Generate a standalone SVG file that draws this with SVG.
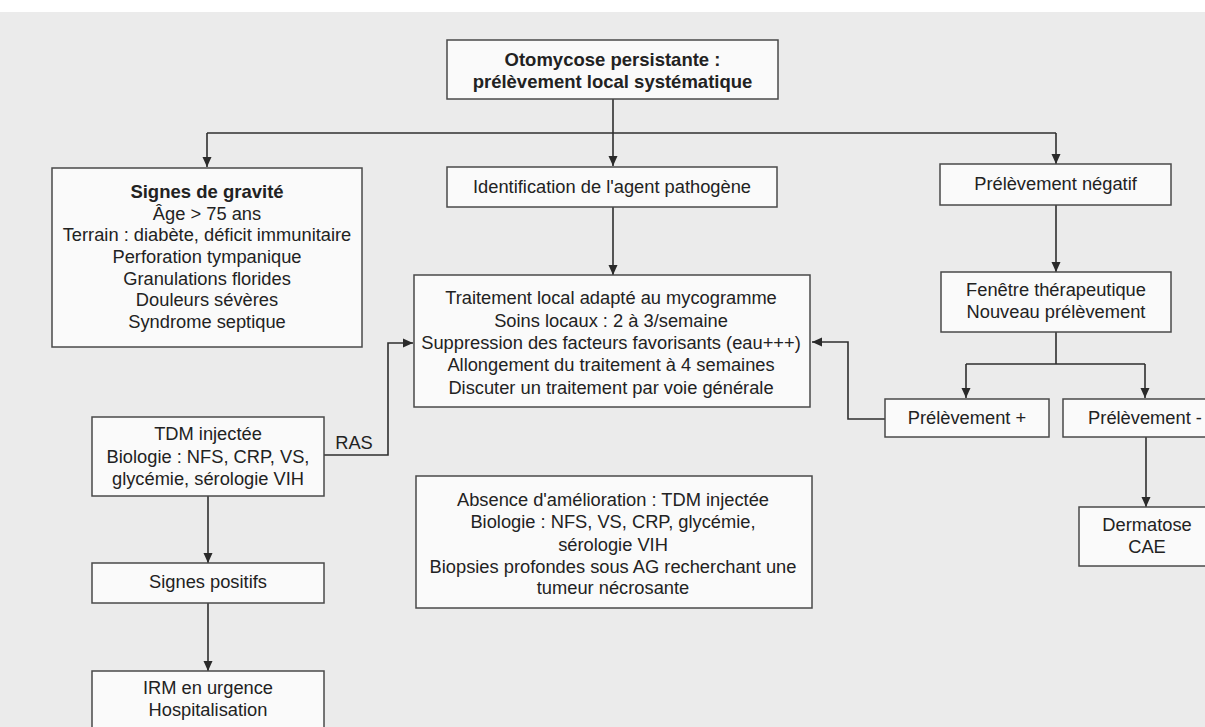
<svg xmlns="http://www.w3.org/2000/svg" width="1205" height="727" viewBox="0 0 1205 727">
<defs>
<marker id="arr" markerUnits="userSpaceOnUse" markerWidth="10" markerHeight="10" refX="10" refY="5" orient="auto">
<path d="M0,0.5 L10,5 L0,9.5 z" fill="#2a2a2a"/>
</marker>
</defs>
<style>
.box{fill:#fafafa;stroke:#4a4a4a;stroke-width:1.5}
.t{font-family:"Liberation Sans",Arial,Helvetica,sans-serif;font-size:18.3px;fill:#222;text-anchor:middle}
.b{font-weight:bold;font-size:18.5px}
.c{fill:none;stroke:#2f2f2f;stroke-width:1.6}
</style>
<rect x="0" y="0" width="1205" height="727" fill="#ffffff"/>
<rect x="0" y="12" width="1205" height="715" fill="#ebebeb"/>

<g id="connectors">
<path class="c" d="M613,99 V133"/>
<path class="c" d="M207,133 H1056"/>
<path class="c" d="M207,133 V167" marker-end="url(#arr)"/>
<path class="c" d="M613,133 V166" marker-end="url(#arr)"/>
<path class="c" d="M1056,133 V164" marker-end="url(#arr)"/>
<path class="c" d="M613,207 V275" marker-end="url(#arr)"/>
<path class="c" d="M324,455 H388 V343 H413" marker-end="url(#arr)"/>
<path class="c" d="M208,496 V563" marker-end="url(#arr)"/>
<path class="c" d="M208,603 V671" marker-end="url(#arr)"/>
<path class="c" d="M1056,205 V272" marker-end="url(#arr)"/>
<path class="c" d="M1056,332 V364 M966,364 H1145"/>
<path class="c" d="M966,364 V398" marker-end="url(#arr)"/>
<path class="c" d="M1145,364 V398" marker-end="url(#arr)"/>
<path class="c" d="M885,419 H848 V342 H812" marker-end="url(#arr)"/>
<path class="c" d="M1146,437 V507" marker-end="url(#arr)"/>
<text class="t" x="354" y="449">RAS</text>
</g>

<g id="n-top">
<rect class="box" x="447" y="40" width="331" height="59"/>
<text class="t b" x="612.5" y="66">Otomycose persistante :</text>
<text class="t b" x="612.5" y="88">prélèvement local systématique</text>
</g>

<g id="n-gravite">
<rect class="box" x="52" y="168" width="310" height="179"/>
<text class="t b" x="207" y="198">Signes de gravité</text>
<text class="t" x="207" y="219.5">Âge &gt; 75 ans</text>
<text class="t" x="207" y="241">Terrain : diabète, déficit immunitaire</text>
<text class="t" x="207" y="263">Perforation tympanique</text>
<text class="t" x="207" y="284.5">Granulations florides</text>
<text class="t" x="207" y="306">Douleurs sévères</text>
<text class="t" x="207" y="328">Syndrome septique</text>
</g>

<g id="n-ident">
<rect class="box" x="447" y="167" width="330" height="40"/>
<text class="t" x="612" y="193">Identification de l'agent pathogène</text>
</g>

<g id="n-negatif">
<rect class="box" x="940" y="164" width="231" height="41"/>
<text class="t" x="1055.5" y="190">Prélèvement négatif</text>
</g>

<g id="n-traitement">
<rect class="box" x="414" y="275" width="396" height="132"/>
<text class="t" x="611" y="304">Traitement local adapté au mycogramme</text>
<text class="t" x="611" y="327">Soins locaux : 2 à 3/semaine</text>
<text class="t" x="611" y="349">Suppression des facteurs favorisants (eau+++)</text>
<text class="t" x="611" y="371">Allongement du traitement à 4 semaines</text>
<text class="t" x="611" y="394">Discuter un traitement par voie générale</text>
</g>

<g id="n-fenetre">
<rect class="box" x="941" y="272" width="230" height="60"/>
<text class="t" x="1056" y="296">Fenêtre thérapeutique</text>
<text class="t" x="1056" y="318">Nouveau prélèvement</text>
</g>

<g id="n-plus">
<rect class="box" x="885" y="399" width="164" height="38"/>
<text class="t" x="967" y="424">Prélèvement +</text>
</g>

<g id="n-moins">
<rect class="box" x="1063" y="399" width="164" height="38"/>
<text class="t" x="1145" y="424">Prélèvement -</text>
</g>

<g id="n-tdm">
<rect class="box" x="92" y="417" width="232" height="79"/>
<text class="t" x="208" y="440">TDM injectée</text>
<text class="t" x="208" y="463">Biologie : NFS, CRP, VS,</text>
<text class="t" x="208" y="485">glycémie, sérologie VIH</text>
</g>

<g id="n-absence">
<rect class="box" x="416" y="476" width="396" height="132"/>
<text class="t" x="613" y="506">Absence d'amélioration : TDM injectée</text>
<text class="t" x="613" y="528">Biologie : NFS, VS, CRP, glycémie,</text>
<text class="t" x="613" y="551">sérologie VIH</text>
<text class="t" x="613" y="573">Biopsies profondes sous AG recherchant une</text>
<text class="t" x="613" y="594">tumeur nécrosante</text>
</g>

<g id="n-dermatose">
<rect class="box" x="1079" y="507" width="134" height="59"/>
<text class="t" x="1147" y="531">Dermatose</text>
<text class="t" x="1147" y="553">CAE</text>
</g>

<g id="n-signes-positifs">
<rect class="box" x="92" y="563" width="232" height="40"/>
<text class="t" x="208" y="588">Signes positifs</text>
</g>

<g id="n-irm">
<rect class="box" x="92" y="671" width="232" height="70"/>
<text class="t" x="208" y="694">IRM en urgence</text>
<text class="t" x="208" y="716">Hospitalisation</text>
</g>
</svg>
